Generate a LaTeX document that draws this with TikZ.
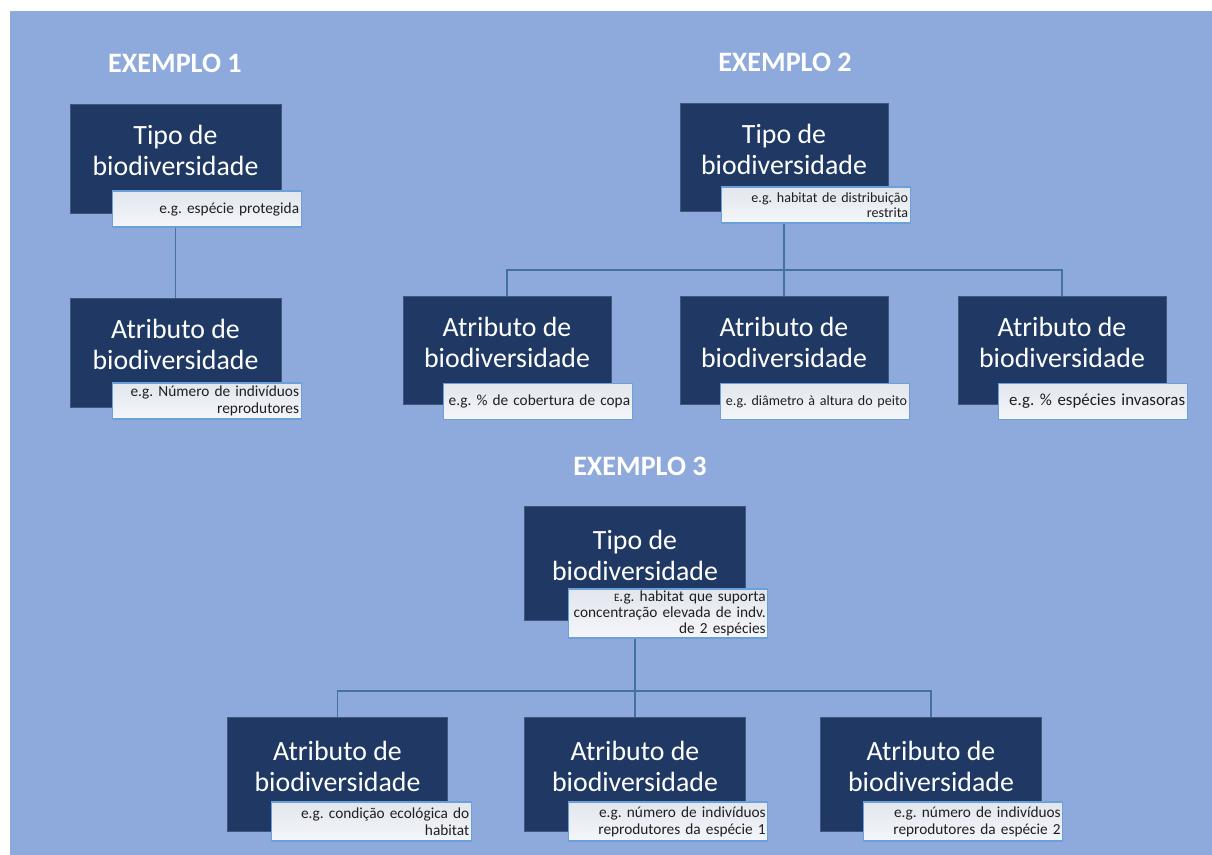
\documentclass[tikz,border=0pt]{standalone}
\usepackage{fontspec}
\setmainfont{Carlito}
\usepackage{tikz}
\frenchspacing
\hyphenpenalty=10000

\definecolor{bgblue}{RGB}{142,169,219}
\definecolor{navy}{RGB}{31,56,100}
\definecolor{linkblue}{RGB}{68,114,160}
\definecolor{egborder}{RGB}{108,160,216}
\definecolor{egtop}{RGB}{226,230,237}
\definecolor{egbottom}{RGB}{244,246,250}

\begin{document}
\begin{tikzpicture}[x=0.025cm,y=-0.025cm,
    extitle/.style={text=white,font=\fontsize{20}{24}\selectfont\bfseries},
    tbox/.style={fill=navy,draw=navy!85!white,line width=0.6pt,minimum width=148pt,minimum height=76.5pt,inner sep=0pt},
    ex3box/.style={minimum width=157pt,minimum height=81pt},
    ttext/.style={text=white,align=center,font=\fontsize{19.8}{22}\selectfont,inner sep=0pt},
    eg/.style={draw=egborder,line width=0.9pt,top color=egtop,bottom color=egbottom,text width=131pt,align=right,inner xsep=1.5pt,inner ysep=0pt,minimum height=25.6pt,font=\fontsize{10.9}{12}\selectfont,text=black!88},
    ex3eg/.style={text width=139pt,minimum height=27.7pt},
    conn/.style={draw=linkblue,line width=1.1pt}]
        \useasboundingbox (0,0) rectangle (1212,855);
        \fill[bgblue] (10,11) rectangle (1212,855);

        % exemplo 1
        \node[extitle] (title1) at (175,63) {EXEMPLO 1};
        \node[tbox,minimum width=150pt,minimum height=77.5pt] (ex1tipo) at (175.5,158.5) {};
        \node[ttext] (ex1tipotxt) at (175.5,150.5) {Tipo de\\biodiversidade};
        \node[eg] (ex1tipoeg) at (207,209) {e.g. espécie protegida};
        \node[tbox,minimum width=150pt,minimum height=77.5pt] (ex1attr) at (175.5,352.5) {};
        \node[ttext] (ex1attrtxt) at (175.5,344.5) {Atributo de\\biodiversidade};
        \node[eg] (ex1attreg) at (207,401) {e.g. Número de indivíduos\\reprodutores};
        \draw[conn] (ex1tipo |- ex1tipoeg.south) -- (ex1attr.north);

        % exemplo 2
        \node[extitle] (title2) at (785,62) {EXEMPLO 2};
        \node[tbox] (ex2tipo) at (784,157.5) {};
        \node[ttext] (ex2tipotxt) at (784,149.5) {Tipo de\\biodiversidade};
        \node[eg,font=\fontsize{10}{10.8}\selectfont] (ex2tipoeg) at (816,205) {e.g. habitat de distribuição\\restrita};
        \coordinate (ex2bar) at (784,270);
        \node[tbox] (ex2a1) at (507,350.5) {};
        \node[ttext] (ex2a1txt) at (507,342.5) {Atributo de\\biodiversidade};
        \node[eg] (ex2a1eg) at (538,401.5) {e.g. \% de cobertura de copa};
        \node[tbox] (ex2a2) at (784,350.5) {};
        \node[ttext] (ex2a2txt) at (784,342.5) {Atributo de\\biodiversidade};
        \node[eg,font=\fontsize{10}{11}\selectfont] (ex2a2eg) at (815,401.5) {e.g. diâmetro à altura do peito};
        \node[tbox] (ex2a3) at (1062,350.5) {};
        \node[ttext] (ex2a3txt) at (1062,342.5) {Atributo de\\biodiversidade};
        \node[eg,font=\fontsize{12}{13}\selectfont] (ex2a3eg) at (1093,401.5) {e.g. \% espécies invasoras};
        \draw[conn] (ex2tipo |- ex2tipoeg.south) -- (ex2a2.north);
        \draw[conn] (ex2a1.north) |- (ex2bar) -| (ex2a3.north);

        % exemplo 3
        \node[extitle] (title3) at (640,466) {EXEMPLO 3};
        \node[tbox,ex3box] (ex3tipo) at (635,563) {};
        \node[ttext] (ex3tipotxt) at (635,555) {Tipo de\\biodiversidade};
        \node[eg,ex3eg,minimum height=34.9pt,font=\fontsize{10.9}{11.5}\selectfont] (ex3tipoeg) at (668,613.5) {{\fontsize{8}{8}\selectfont E}.g. habitat que suporta\\concentração elevada de indv.\\de 2 espécies};
        \coordinate (ex3bar) at (635,691);
        \node[tbox,ex3box] (ex3a1) at (337.5,774.5) {};
        \node[ttext] (ex3a1txt) at (337.5,766.5) {Atributo de\\biodiversidade};
        \node[eg,ex3eg] (ex3a1eg) at (371.5,821.5) {e.g. condição ecológica do\\habitat};
        \node[tbox,ex3box] (ex3a2) at (635,774.5) {};
        \node[ttext] (ex3a2txt) at (635,766.5) {Atributo de\\biodiversidade};
        \node[eg,ex3eg] (ex3a2eg) at (668,821.5) {e.g. número de indivíduos\\reprodutores da espécie 1};
        \node[tbox,ex3box] (ex3a3) at (931,774.5) {};
        \node[ttext] (ex3a3txt) at (931,766.5) {Atributo de\\biodiversidade};
        \node[eg,ex3eg] (ex3a3eg) at (963,821.5) {e.g. número de indivíduos\\reprodutores da espécie 2};
        \draw[conn] (ex3tipo |- ex3tipoeg.south) -- (ex3a2.north);
        \draw[conn] (ex3a1.north) |- (ex3bar) -| (ex3a3.north);
    \end{tikzpicture}
\end{document}
